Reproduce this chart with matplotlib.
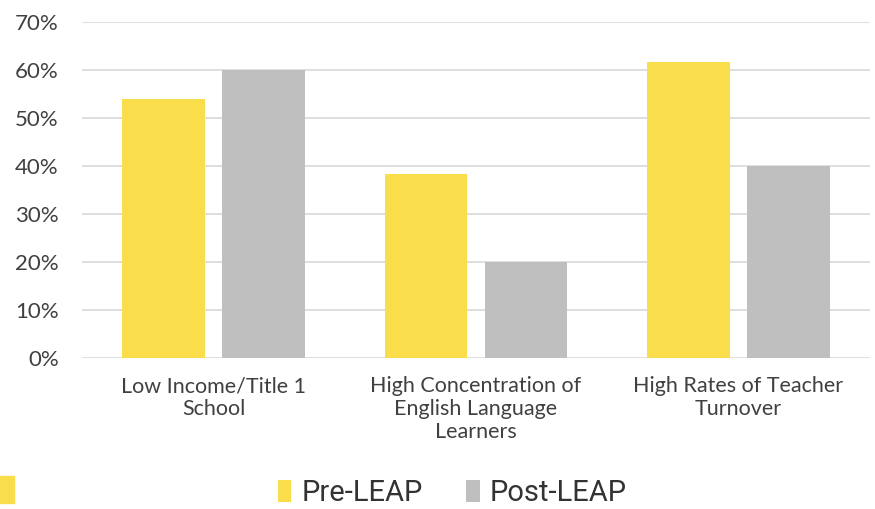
import numpy as np
import matplotlib.pyplot as plt
from matplotlib.patches import Rectangle
from matplotlib.ticker import PercentFormatter

# Data
categories = ["Low Income/Title 1\nSchool",
              "High Concentration of\nEnglish Language\nLearners",
              "High Rates of Teacher\nTurnover"]
pre_leap = [54, 38.3, 61.7]
post_leap = [60, 20, 40]
series_names = ["Pre-LEAP", "Post-LEAP"]

yellow = "#FADD4B"
gray = "#BFBFBF"
text_color = "#404040"

plt.rcParams['font.family'] = ['Lato', 'DejaVu Sans']

fig = plt.figure(figsize=(8.75, 5.09), dpi=100)
ax = fig.add_axes([0.094, 0.2967, 0.9, 0.6601])

x = np.arange(len(categories))
width = 0.315
ax.bar(x - 0.19, pre_leap, width, color=yellow, label=series_names[0], zorder=3)
ax.bar(x + 0.19, post_leap, width, color=gray, label=series_names[1], zorder=3)

ax.set_xlim(-0.5, 2.5)
ax.set_ylim(0, 70)
ax.set_yticks(np.arange(0, 71, 10))
ax.yaxis.set_major_formatter(PercentFormatter(decimals=0))
ax.grid(axis='y', color="#D9D9D9", linewidth=1.2, zorder=0)
ax.set_axisbelow(True)
for s in ax.spines.values():
    s.set_visible(False)
ax.tick_params(axis='both', length=0, colors=text_color)
ax.tick_params(axis='y', labelsize=16, pad=17)
ax.set_xticks(x)
ax.set_xticklabels(categories, fontsize=15.5, color=text_color, linespacing=1.2)
ax.tick_params(axis='x', pad=13)

fig.legend(loc='center', bbox_to_anchor=(0.517, 0.031), ncol=2, frameon=False,
           handlelength=0.45, handleheight=0.8, handletextpad=0.35,
           columnspacing=1.5, labelcolor="#333333", prop={'family': 'Roboto', 'size': 21})

# small yellow marker at the bottom-left edge
fig.patches.append(Rectangle((0, 0.012), 0.016, 0.052, transform=fig.transFigure,
                             color=yellow, zorder=1))

fig.savefig("out.png", dpi=100)
